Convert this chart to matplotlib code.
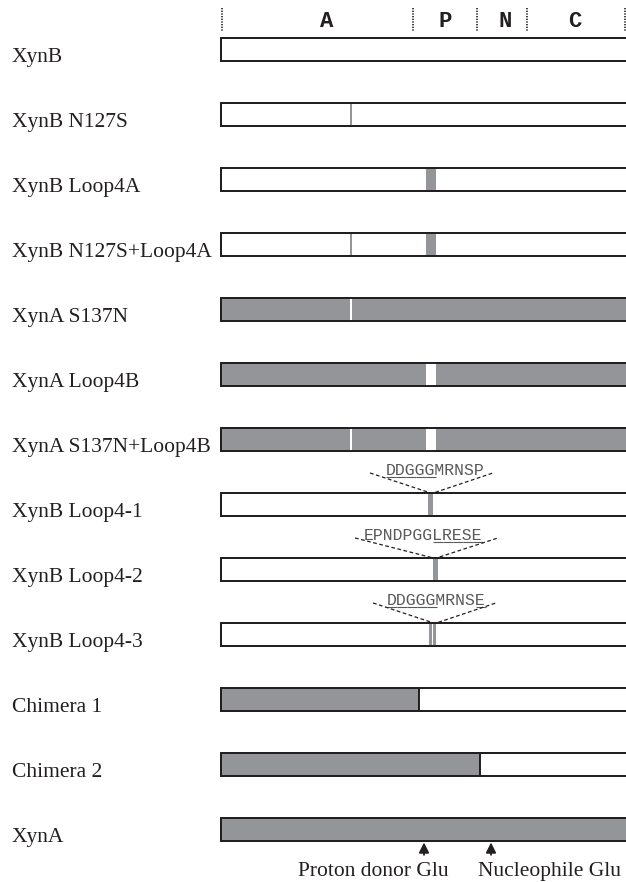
import matplotlib
matplotlib.use('Agg')
import matplotlib.pyplot as plt

# constructs, top to bottom
names = ['XynB', 'XynB N127S', 'XynB Loop4A', 'XynB N127S+Loop4A', 'XynA S137N',
         'XynA Loop4B', 'XynA S137N+Loop4B', 'XynB Loop4-1', 'XynB Loop4-2',
         'XynB Loop4-3', 'Chimera 1', 'Chimera 2', 'XynA']
bar_len = 420
# length of the N-terminal XynA part, the rest of the bar is XynB
xyna_part = [0, 0, 0, 0, 420, 420, 420, 0, 0, 0, 198, 259, 420]

# point mutation N127S / S137N
mut_rows = [1, 3, 4, 6]
mut_pos = 130
# loop 4 swap
loop_rows = [2, 3, 5, 6]
loop_span = (205, 215)

# loop 4 variants
ins_rows = [7, 8, 9]
ins_marks = [[(207, 212)], [(212, 217)], [(208, 211), (212, 215)]]
ins_seqs = ['DDGGGMRNSP', 'EPNDPGGLRESE', 'DDGGGMRNSE']
ins_under = [[0, 1, 2, 3, 4], [7, 8, 9, 10, 11], [0, 1, 2, 3, 4, 9]]
ins_tip = [211, 214, 214]
ins_left = [149, 134, 152]
ins_right = [272, 277, 275]
ins_text_x = [165, 143, 166]

domains = ['A', 'P', 'N', 'C']
domain_edges = [1, 192, 256, 306, 404]
domain_label_x = [106, 224, 284, 354]

sites = ['Proton donor Glu', 'Nucleophile Glu']
site_pos = [203, 270]
site_text_x = [152, 328]

GREY = '#939598'
EDGE = '#231f20'
SEQ = '#58595b'
H = 0.34
LW = 1.4
CHAR_W = 9.9
FS = 15.5

fig = plt.figure(figsize=(6.26, 8.82), dpi=100)
ax = fig.add_axes([0, 0, 1, 1])
ax.set_xlim(-221, 405)
ax.set_ylim(12.808, -0.7615)
ax.axis('off')

for i, name in enumerate(names):
    part = xyna_part[i]
    if part > 0:
        ax.barh(i, part, left=0, height=H, color=GREY, edgecolor=EDGE, lw=LW)
    if part < bar_len:
        ax.barh(i, bar_len - part, left=part, height=H, color='white', edgecolor=EDGE, lw=LW)
    ax.text(-209, i + 0.2, name, ha='left', va='baseline', fontsize=FS,
            family='Liberation Serif', color=EDGE)

def mark(row, x0, x1):
    col = 'white' if x0 < xyna_part[row] else GREY
    ax.barh(row, x1 - x0, left=x0, height=H, color=col, lw=0)

for r in mut_rows:
    mark(r, mut_pos - 1.2, mut_pos + 1.2)
for r in loop_rows:
    mark(r, loop_span[0], loop_span[1])
for k, r in enumerate(ins_rows):
    for x0, x1 in ins_marks[k]:
        mark(r, x0, x1)

# outlines on top of the marks
ax.barh(range(len(names)), bar_len, left=0, height=H, fill=False, edgecolor=EDGE, lw=LW)

# inserted loop sequences
for k, r in enumerate(ins_rows):
    x0 = ins_text_x[k]
    ax.text(x0, r - 0.454, ins_seqs[k], ha='left', va='baseline', fontsize=11.9,
            family='Liberation Mono', color=SEQ)
    for c in ins_under[k]:
        ax.plot([x0 + c * CHAR_W, x0 + (c + 1) * CHAR_W], [r - 0.425, r - 0.425],
                color=SEQ, lw=0.8, solid_capstyle='butt')
    ax.plot([ins_left[k], ins_tip[k], ins_right[k]], [r - 0.485, r - H / 2, r - 0.485],
            color=EDGE, lw=0.9, ls=(0, (3, 2)))

# domain header
for x in domain_edges:
    ax.plot([x, x], [-0.638, -0.285], color=EDGE, lw=1.2, ls=(0, (0.8, 0.8)))
for lab, x in zip(domains, domain_label_x):
    ax.text(x, -0.43, lab, ha='center', va='center', fontsize=16,
            family='Liberation Mono', fontweight='bold', color=EDGE)

# catalytic residues
last = len(names) - 1
for lab, x, tx in zip(sites, site_pos, site_text_x):
    ax.annotate('', xy=(x, last + 0.2), xytext=(x, last + 0.39),
                arrowprops=dict(arrowstyle='-|>', color=EDGE, lw=1.3, mutation_scale=15,
                                shrinkA=0, shrinkB=0))
    ax.text(tx, last + 0.715, lab, ha='center', va='baseline', fontsize=FS,
            family='Liberation Serif', color=EDGE)

fig.savefig('out.png', dpi=100)
